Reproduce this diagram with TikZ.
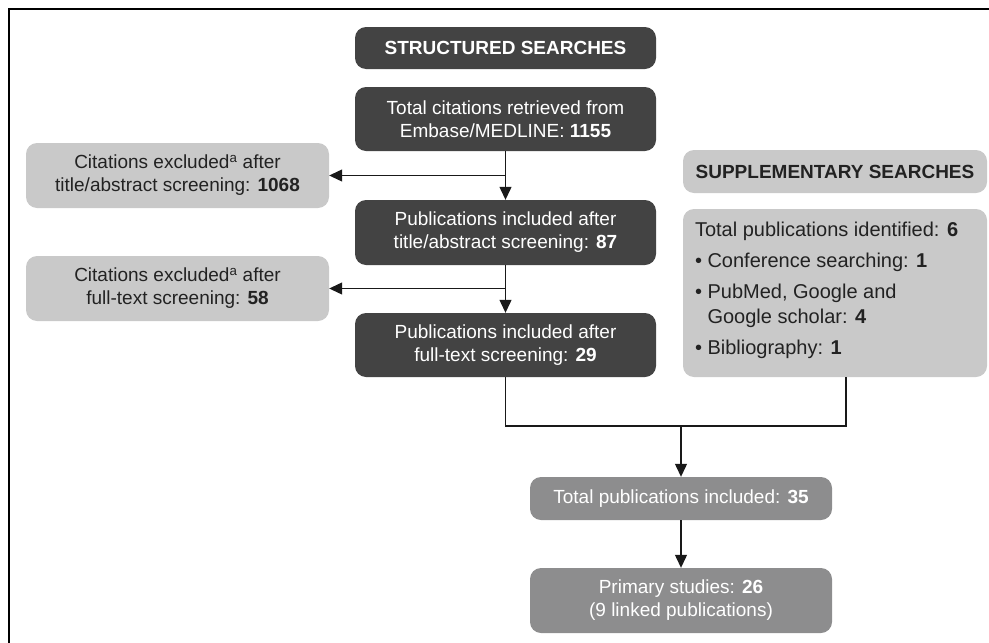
\documentclass[tikz,border=0pt]{standalone}
\usepackage{fontspec}
\setmainfont{Liberation Sans}
\usetikzlibrary{arrows.meta,calc}
\definecolor{darkbox}{HTML}{434343}
\definecolor{lightbox}{HTML}{C9C9C9}
\definecolor{midbox}{HTML}{8D8D8E}
\definecolor{txt}{HTML}{222222}
\begin{document}
\begin{tikzpicture}[x=1pt,y=-1pt,
  box/.style={rectangle,rounded corners=11pt,inner sep=0pt,align=center,
    font=\fontsize{19}{23}\selectfont},
  dark/.style={box,fill=darkbox,text=white,minimum width=301pt},
  light/.style={box,fill=lightbox,text=txt,minimum width=303pt},
  mid/.style={box,fill=midbox,text=white,minimum width=302pt},
  head/.style={font=\fontsize{19}{22}\selectfont\bfseries},
  conn/.style={draw=black!90,line width=1.2pt},
  arr/.style={conn,-{Triangle[length=13pt,width=12pt]}}]
\useasboundingbox (0,0) rectangle (989,643);
\draw[line width=1.4pt] (9,643) -- (9,9) -- (989,9);

\node[dark,minimum height=42pt,head] (ss) at (505.5,48) {STRUCTURED SEARCHES};
\node[dark,minimum height=64pt] (tc) at (505.5,119) {Total citations retrieved from\\Embase/MEDLINE: \textbf{1155}};
\node[light,minimum height=65pt] (ex1) at (177.5,175.5) {Citations excluded\textsuperscript{a} after\\title/abstract screening: \textbf{1068}};
\node[dark,minimum height=65pt] (p87) at (505.5,232.5) {Publications included after\\title/abstract screening: \textbf{87}};
\node[light,minimum height=65pt] (ex2) at (177.5,288.5) {Citations excluded\textsuperscript{a} after\\full-text screening: \textbf{58}};
\node[dark,minimum height=64pt] (p29) at (505.5,345) {Publications included after\\full-text screening: \textbf{29}};

\node[light,minimum width=304pt,minimum height=43pt,head] (sup) at (835,171.5) {SUPPLEMENTARY SEARCHES};
\node[light,minimum width=304pt,minimum height=168pt] (tpi) at (835,293) {};
\node[anchor=north west,inner sep=0pt,align=left,text=txt,
  font=\fontsize{20}{25}\selectfont] (tpitext) at ($(tpi.north west)+(12,13)$)
  {Total publications identified: \textbf{6}\\[6pt]
   \textbullet\ Conference searching: \textbf{1}\\[6pt]
   \textbullet\ PubMed, Google and\\
   \phantom{\textbullet\ }Google scholar: \textbf{4}\\[6pt]
   \textbullet\ Bibliography: \textbf{1}};

\node[mid,minimum height=43pt] (t35) at (681,498.5) {Total publications included: \textbf{35}};
\node[mid,minimum height=65pt] (ps) at (681,600.5) {Primary studies: \textbf{26}\\(9 linked publications)};

\coordinate (supout) at (846,377);
\coordinate (merge) at (681,426);

\draw[arr] (tc.south) -- (p87.north);
\draw[arr] (p87.south) -- (p29.north);
\draw[arr] (tc.south |- ex1.east) -- (ex1.east);
\draw[arr] (p87.south |- ex2.east) -- (ex2.east);
\draw[conn] (p29.south) |- (merge) -| (supout);
\draw[arr] (merge) -- (t35.north);
\draw[arr] (t35.south) -- (ps.north);
\end{tikzpicture}
\end{document}
